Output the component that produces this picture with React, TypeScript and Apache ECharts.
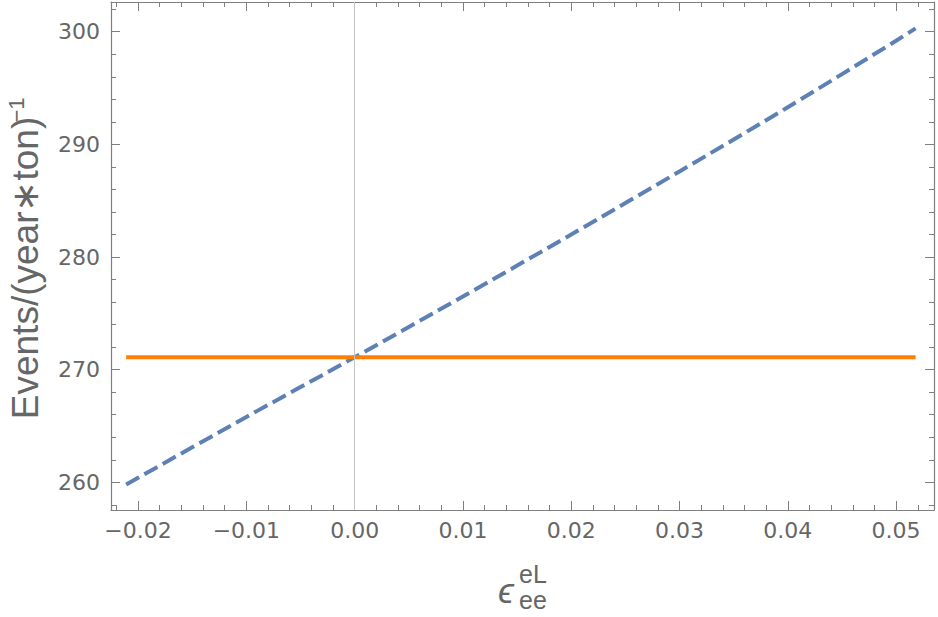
import React, { useEffect, useRef } from "react";
import * as echarts from "echarts";

// ---- data ----
const epsilonValues = [-0.0211, -0.02, -0.01, 0, 0.01, 0.02, 0.03, 0.04, 0.05, 0.0518];
const eventsNSI = [259.8, 260.4, 265.8, 271.1, 276.5, 282.0, 287.6, 293.3, 299.2, 300.3];
const smEpsilon = [-0.0211, 0.0518];
const eventsSM = [271.1, 271.1];
const referenceLineX = [0];

const X_MIN = -0.0225;
const X_MAX = 0.0535;
const Y_MIN = 257.54;
const Y_MAX = 302.64;
const X_STEP = 0.01;
const Y_STEP = 10;

const FRAME = "#7f7f7f";
const TEXT = "#666666";
const BLUE = "#5e81b5";
const ORANGE = "#ff8000";

export default function App() {
  const ref = useRef<HTMLDivElement>(null);

  useEffect(() => {
    if (!ref.current) return;
    const chart = echarts.init(ref.current, undefined, { renderer: "svg" });

    const xFmt = (v: number) => {
      const r = Math.round(v / X_STEP);
      if (Math.abs(v / X_STEP - r) > 1e-6) return "";
      const s = (Math.abs(r) * X_STEP).toFixed(2);
      return (r < 0 ? "\u2212" : "") + s;
    };
    const yFmt = (v: number) => {
      const r = Math.round(v / Y_STEP);
      if (Math.abs(v / Y_STEP - r) > 1e-6) return "";
      return String(r * Y_STEP);
    };

    const axisCommon = {
      type: "value" as const,
      splitLine: { show: false },
      minorSplitLine: { show: false },
      axisLine: { show: true, onZero: false, lineStyle: { color: FRAME, width: 1.2 } },
      axisTick: { show: true, inside: true, length: 9, lineStyle: { color: FRAME, width: 1 } },
      minorTick: { show: true, splitNumber: 5, length: 5, lineStyle: { color: FRAME, width: 1 } },
    };
    const xCommon = { ...axisCommon, min: X_MIN, max: X_MAX, minInterval: X_STEP, maxInterval: X_STEP };
    const yCommon = { ...axisCommon, min: Y_MIN, max: Y_MAX, minInterval: Y_STEP, maxInterval: Y_STEP };
    const labelStyle = { color: TEXT, fontFamily: "DejaVu Sans", fontSize: 22 };

    chart.setOption({
      animation: false,
      backgroundColor: "#ffffff",
      grid: { left: 111, right: 4, top: 2, bottom: 107, containLabel: false },
      xAxis: [
        { ...xCommon, position: "bottom", axisLabel: { ...labelStyle, margin: 9, formatter: xFmt } },
        { ...xCommon, position: "top", axisLabel: { show: false } },
      ],
      yAxis: [
        { ...yCommon, position: "left", axisLabel: { ...labelStyle, margin: 11, formatter: yFmt } },
        { ...yCommon, position: "right", axisLabel: { show: false } },
      ],
      series: [
        {
          type: "line",
          xAxisIndex: 0,
          yAxisIndex: 0,
          data: [],
          silent: true,
          markLine: {
            silent: true,
            symbol: ["none", "none"],
            label: { show: false },
            lineStyle: { color: "#c4c4c4", width: 1, type: "solid" },
            data: referenceLineX.map((x) => ({ xAxis: x })),
          },
          z: 1,
        },
        {
          type: "line",
          xAxisIndex: 0,
          yAxisIndex: 0,
          data: epsilonValues.map((x, i) => [x, eventsNSI[i]]),
          smooth: 0.3,
          showSymbol: false,
          lineStyle: { color: BLUE, width: 4, type: [15, 6], cap: "butt" },
          z: 2,
        },
        {
          type: "line",
          xAxisIndex: 0,
          yAxisIndex: 0,
          data: smEpsilon.map((x, i) => [x, eventsSM[i]]),
          showSymbol: false,
          lineStyle: { color: ORANGE, width: 4, type: "solid", cap: "butt" },
          z: 3,
        },
      ],
      graphic: [
        {
          type: "text",
          x: 25,
          y: 268,
          rotation: Math.PI / 2,
          style: {
            text: "Events/(year\u2217ton)",
            font: "37px 'Liberation Sans', Arial, sans-serif",
            fill: TEXT,
            align: "center",
            verticalAlign: "middle",
          },
        },
        {
          type: "text",
          x: 16,
          y: 110,
          rotation: Math.PI / 2,
          style: {
            text: "\u22121",
            font: "22px 'Liberation Sans', Arial, sans-serif",
            fill: TEXT,
            align: "center",
            verticalAlign: "middle",
          },
        },
        {
          type: "text",
          x: 506,
          y: 590,
          style: {
            text: "\u03f5",
            font: "italic 36px 'Liberation Sans', Arial, sans-serif",
            fill: TEXT,
            align: "center",
            verticalAlign: "middle",
          },
        },
        {
          type: "text",
          x: 519,
          y: 574,
          style: {
            text: "eL",
            font: "25px 'Liberation Sans', Arial, sans-serif",
            fill: TEXT,
            align: "left",
            verticalAlign: "middle",
          },
        },
        {
          type: "text",
          x: 519,
          y: 600,
          style: {
            text: "ee",
            font: "25px 'Liberation Sans', Arial, sans-serif",
            fill: TEXT,
            align: "left",
            verticalAlign: "middle",
          },
        },
      ],
    });

    return () => chart.dispose();
  }, []);

  return (
    <div
      ref={ref}
      style={{ position: "fixed", left: 0, top: 0, width: 938, height: 617, background: "#fff" }}
    />
  );
}
